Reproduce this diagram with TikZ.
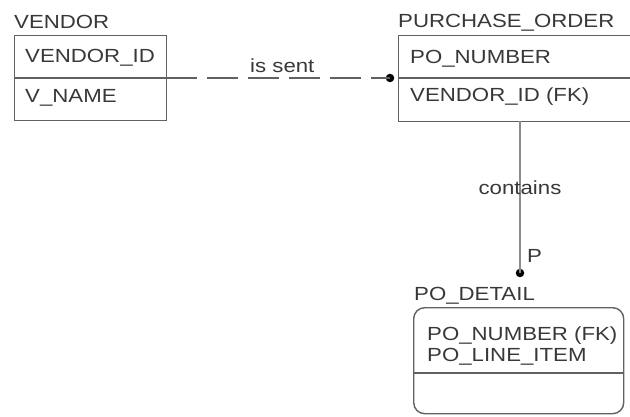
\documentclass[tikz,border=0pt]{standalone}
\usepackage{fontspec}
\setmainfont{Liberation Sans}[FakeStretch=1.17]
\begin{document}
\begin{tikzpicture}[x=1pt,y=-1pt,
  ln/.style={draw=black!62, line width=1.4pt},
  txt/.style={anchor=base west, inner sep=0pt, text=black!78, font=\fontsize{19}{22}\selectfont},
  entbox/.style={ln, anchor=north west, inner sep=0pt},
  blob/.style={circle, fill=black, inner sep=0pt, minimum size=8.5pt}]
\clip (0,0) rectangle (630,417);
% VENDOR
\node[txt] (vt) at (14,29) {VENDOR};
\node[entbox, minimum width=152pt, minimum height=85pt] (vendor) at (14,35) {};
\coordinate (vdl) at (14,78);
\coordinate (vdr) at (166,78);
\draw[ln] (vdl) -- (vdr);
\node[txt] (v1) at (25,63) {VENDOR\_ID};
\node[txt] (v2) at (25,103) {V\_NAME};
% PURCHASE_ORDER
\node[txt] (pt) at (398,28) {PURCHASE\_ORDER};
\node[entbox, minimum width=250pt, minimum height=86pt] (po) at (398,35) {};
\coordinate (pdl) at (398,78);
\coordinate (pdr) at (648,78);
\draw[ln] (pdl) -- (pdr);
\node[txt] (p1) at (410,64) {PO\_NUMBER};
\node[txt] (p2) at (410,102) {VENDOR\_ID (FK)};
% PO_DETAIL
\node[txt] (dt) at (414,301) {PO\_DETAIL};
\node[entbox, rounded corners=11pt, minimum width=210pt, minimum height=106pt] (pd) at (413,307) {};
\coordinate (ddl) at (413,373);
\coordinate (ddr) at (623,373);
\draw[ln] (ddl) -- (ddr);
\node[txt] (d1) at (427,340) {PO\_NUMBER (FK)};
\node[txt] (d2) at (427,361) {PO\_LINE\_ITEM};
% is sent
\node[blob] (b1) at (390,78) {};
\draw[ln, dash pattern=on 31pt off 10pt] (vdr) -- (b1.center);
\node[txt] (l1) at (250,73) {is sent};
% contains
\coordinate (ct) at (520,121);
\node[blob] (b2) at (520,273) {};
\draw[ln, draw=black!45] (ct) -- (b2.center);
\node[txt, anchor=base] (l2) at (520,195) {contains};
\node[txt] (l3) at (527,262) {P};
\end{tikzpicture}
\end{document}
